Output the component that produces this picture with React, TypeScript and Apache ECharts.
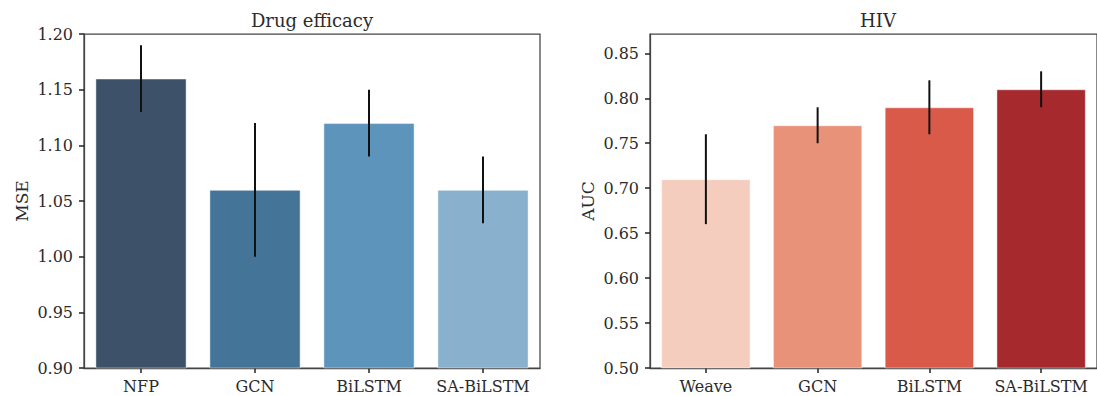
import React, { useEffect, useRef } from "react";
import * as echarts from "echarts";

const leftTitle = "Drug efficacy";
const leftCategories = ["NFP", "GCN", "BiLSTM", "SA-BiLSTM"];
const leftValues = [1.16, 1.06, 1.12, 1.06];
const leftLow = [1.13, 1.0, 1.09, 1.03];
const leftHigh = [1.19, 1.12, 1.15, 1.09];
const leftColors = ["#3d5268", "#447498", "#5c94bc", "#89b0cc"];
const leftTicks = [0.9, 0.95, 1.0, 1.05, 1.1, 1.15, 1.2];

const rightTitle = "HIV";
const rightCategories = ["Weave", "GCN", "BiLSTM", "SA-BiLSTM"];
const rightValues = [0.71, 0.77, 0.79, 0.81];
const rightLow = [0.66, 0.75, 0.76, 0.79];
const rightHigh = [0.76, 0.79, 0.82, 0.83];
const rightColors = ["#f4cdbe", "#e9927a", "#da5a4a", "#a6292d"];
const rightTicks = [0.5, 0.55, 0.6, 0.65, 0.7, 0.75, 0.8, 0.85];

const FONT = "DejaVu Serif";
const TEXT = "#2b2b2b";

export default function App() {
  const ref = useRef<HTMLDivElement>(null);
  useEffect(() => {
    document.body.style.margin = "0";
    if (!ref.current) return;
    const chart = echarts.init(ref.current, undefined, { renderer: "svg" });
    const gridBase = {
      top: 34,
      width: 456,
      height: 334,
      show: true,
      borderColor: "#444",
      borderWidth: 1.25,
      backgroundColor: "transparent",
    };
    const xAxisBase = (cats: string[], gi: number) => ({
      type: "category",
      gridIndex: gi,
      data: cats,
      axisLine: { lineStyle: { color: "#444", width: 1.25 } },
      axisTick: {
        show: true,
        interval: 0,
        alignWithLabel: true,
        length: 5,
        lineStyle: { color: "#222", width: 1.5 },
      },
      axisLabel: { interval: 0, fontFamily: FONT, fontSize: 16, color: TEXT, margin: 10 },
    });
    const yAxisBase = (gi: number, min: number, max: number, ticks: number[], name: string) => ({
      type: "value",
      gridIndex: gi,
      min,
      max,
      interval: 0.05,
      name,
      nameLocation: "middle",
      nameGap: 54,
      nameTextStyle: { fontFamily: FONT, fontSize: 17, color: TEXT },
      splitLine: { show: false },
      axisLine: { show: true, lineStyle: { color: "#444", width: 1.25 } },
      axisTick: {
        show: true,
        length: 5,
        customValues: ticks,
        lineStyle: { color: "#222", width: 1.5 },
      },
      axisLabel: {
        fontFamily: FONT,
        fontSize: 16,
        color: TEXT,
        margin: 11,
        customValues: ticks,
        formatter: (v: number) => v.toFixed(2),
      },
    });
    const errSeries = (gi: number, low: number[], high: number[]) => ({
      type: "custom",
      xAxisIndex: gi,
      yAxisIndex: gi,
      z: 5,
      data: low.map((l, i) => [i, l, high[i]]),
      encode: { x: 0, y: [1, 2] },
      renderItem: (params: any, api: any) => {
        const x = api.value(0);
        const p1 = api.coord([x, api.value(1)]);
        const p2 = api.coord([x, api.value(2)]);
        return {
          type: "line",
          shape: { x1: p1[0], y1: p1[1], x2: p2[0], y2: p2[1] },
          style: { stroke: "#111", lineWidth: 2 },
        };
      },
    });
    const barSeries = (gi: number, vals: number[], colors: string[]) => ({
      type: "bar",
      xAxisIndex: gi,
      yAxisIndex: gi,
      barWidth: "80%",
      data: vals.map((v, i) => ({
        value: v,
        itemStyle: { color: colors[i], borderColor: "rgba(255,255,255,0.45)", borderWidth: 1 },
      })),
    });
    chart.setOption({
      animation: false,
      title: [
        {
          text: leftTitle,
          left: 312,
          top: 11,
          textAlign: "center",
          padding: 0,
          textStyle: { fontFamily: FONT, fontSize: 18, fontWeight: "normal", color: TEXT },
        },
        {
          text: rightTitle,
          left: 878,
          top: 11,
          textAlign: "center",
          padding: 0,
          textStyle: { fontFamily: FONT, fontSize: 18, fontWeight: "normal", color: TEXT },
        },
      ],
      grid: [
        { ...gridBase, left: 84 },
        { ...gridBase, left: 650 },
      ],
      xAxis: [xAxisBase(leftCategories, 0), xAxisBase(rightCategories, 1)],
      yAxis: [
        yAxisBase(0, 0.9, 1.2, leftTicks, "MSE"),
        yAxisBase(1, 0.5, 0.8715, rightTicks, "AUC"),
      ],
      series: [
        barSeries(0, leftValues, leftColors),
        errSeries(0, leftLow, leftHigh),
        barSeries(1, rightValues, rightColors),
        errSeries(1, rightLow, rightHigh),
      ],
    });
    return () => chart.dispose();
  }, []);
  return <div ref={ref} style={{ width: 1097, height: 396 }} />;
}
